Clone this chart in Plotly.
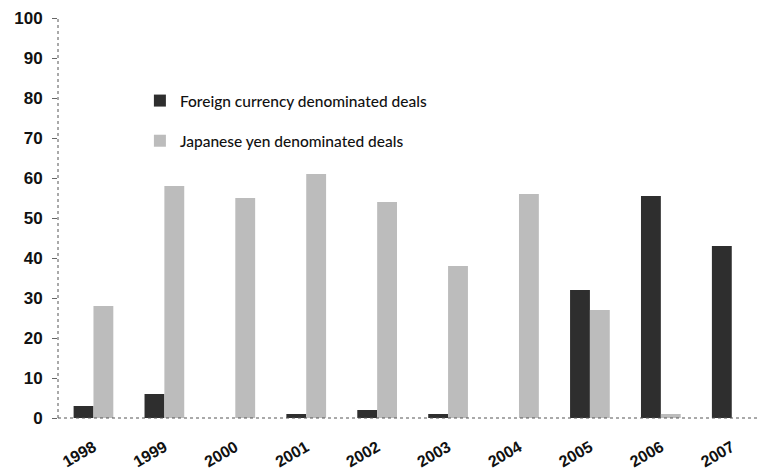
import plotly.graph_objects as go

years = ["1998", "1999", "2000", "2001", "2002", "2003", "2004", "2005", "2006", "2007"]
foreign_deals = [3, 6, 0, 1, 2, 1, 0, 32, 55.5, 43]
yen_deals = [28, 58, 55, 61, 54, 38, 56, 27, 1, 0]
y_ticks = [0, 10, 20, 30, 40, 50, 60, 70, 80, 90, 100]

fig = go.Figure()
fig.add_trace(go.Bar(
    x=years, y=foreign_deals, name="Foreign currency denominated deals",
    marker=dict(color="#2e2e2e", line=dict(width=0)), legendgroup="a",
))
fig.add_trace(go.Bar(
    x=years, y=yen_deals, name="Japanese yen denominated deals",
    marker=dict(color="#bcbcbc", line=dict(width=0)), legendgroup="b",
))

fig.update_layout(
    width=758, height=472,
    margin=dict(l=58, r=0, t=18, b=54),
    plot_bgcolor="white", paper_bgcolor="white",
    barmode="group", bargap=0.44, bargroupgap=0,
    font=dict(family="Liberation Sans", color="#111111"),
    legend=dict(
        x=0.117, y=0.835, xanchor="left", yanchor="top",
        bgcolor="rgba(0,0,0,0)", tracegroupgap=17,
        font=dict(family="Lato", size=15.5, color="#111111", weight=500),
        itemwidth=30,
    ),
    xaxis=dict(
        range=[-0.5, 9.37], showgrid=False, showline=False, ticks="",
        tickangle=-30, ticklabelstandoff=16,
        tickfont=dict(family="Liberation Sans", size=16, color="#111111", weight="bold"),
    ),
    yaxis=dict(
        range=[0, 100], tickvals=y_ticks, showgrid=False, showline=False,
        ticks="outside", ticklen=5, tickcolor="#666666", ticklabelstandoff=6,
        tickfont=dict(family="Liberation Sans", size=17, color="#111111", weight="bold"),
        zeroline=False,
    ),
    shapes=[
        dict(type="line", xref="paper", yref="paper", x0=0, x1=0, y0=0, y1=1,
             line=dict(color="#555555", width=1, dash="dot")),
        dict(type="line", xref="paper", yref="paper", x0=0, x1=1, y0=0, y1=0,
             line=dict(color="#555555", width=1, dash="dot")),
    ],
)

fig.write_html("out.html")
